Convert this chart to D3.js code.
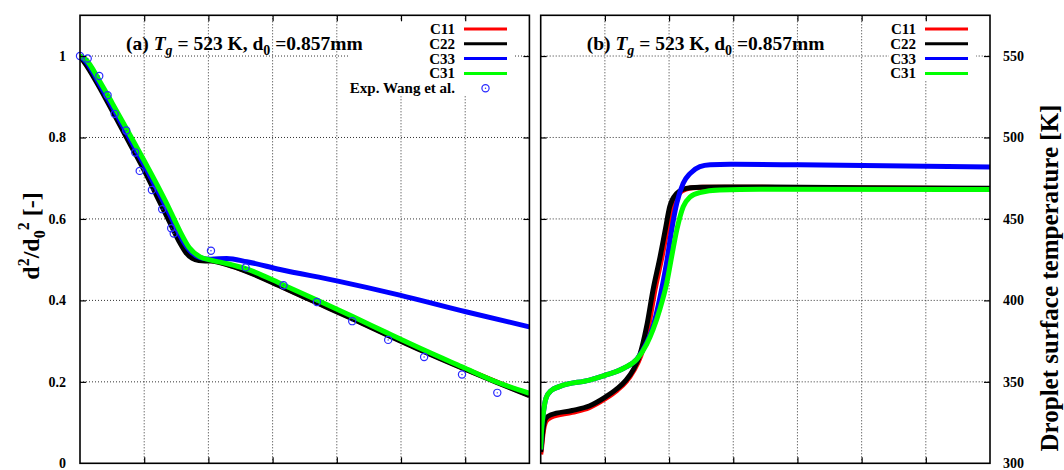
<!DOCTYPE html>
<html>
<head>
<meta charset="utf-8">
<script src="https://cdn.jsdelivr.net/npm/d3@7"></script>
<style>
body { margin: 0; background: #fff; }
text { font-family: "Liberation Serif", "Times New Roman", serif; font-weight: bold; fill: #000; }
</style>
</head>
<body>
<svg id="chart" width="1064" height="470"></svg>
<script>
// ---------- data ----------
var timeTicks = [0, 1, 2, 3, 4, 5, 6, 7];
var sizeTicks = [0, 0.2, 0.4, 0.6, 0.8, 1];
var tempTicks = [300, 350, 400, 450, 500, 550];
var seriesNames = ["C11", "C22", "C33", "C31"];

// (a) normalised squared diameter
var sizeTimeC11 = [0, 0.1, 0.3, 0.5, 0.8, 1.0, 1.2, 1.4, 1.56, 1.65, 1.75, 1.85, 1.95, 2.04, 2.3, 2.58, 3.17, 3.69, 4.24, 4.8, 5.36, 5.95, 6.5, 7.0];
var sizeC11 = [1.0, 0.98, 0.928, 0.871, 0.783, 0.724, 0.662, 0.598, 0.547, 0.521, 0.506, 0.5, 0.498, 0.498, 0.488, 0.473, 0.432, 0.395, 0.356, 0.315, 0.275, 0.235, 0.199, 0.167];
var sizeTimeC22 = [0, 0.1, 0.3, 0.5, 0.8, 1.0, 1.2, 1.4, 1.56, 1.65, 1.75, 1.85, 1.95, 2.04, 2.3, 2.58, 3.17, 3.69, 4.24, 4.8, 5.36, 5.95, 6.5, 7.0];
var sizeC22 = [1.0, 0.977, 0.924, 0.866, 0.778, 0.719, 0.655, 0.591, 0.54, 0.517, 0.503, 0.498, 0.497, 0.497, 0.487, 0.472, 0.431, 0.394, 0.355, 0.314, 0.274, 0.234, 0.198, 0.166];
var sizeTimeC33 = [0, 0.1, 0.3, 0.5, 0.8, 1.0, 1.2, 1.4, 1.56, 1.7, 1.87, 2.04, 2.285, 2.597, 3.115, 4.0, 4.98, 6.01, 7.0];
var sizeC33 = [1.0, 0.985, 0.932, 0.876, 0.79, 0.732, 0.672, 0.61, 0.558, 0.524, 0.505, 0.501, 0.503, 0.495, 0.476, 0.448, 0.413, 0.372, 0.335];
var sizeTimeC31 = [0, 0.1, 0.3, 0.5, 0.8, 1.0, 1.2, 1.4, 1.56, 1.7, 1.87, 2.04, 2.3, 2.58, 3.17, 3.69, 4.24, 4.8, 5.36, 5.95, 6.5, 7.0];
var sizeC31 = [1.0, 0.99, 0.94, 0.885, 0.8, 0.743, 0.684, 0.622, 0.569, 0.53, 0.507, 0.499, 0.49, 0.478, 0.438, 0.401, 0.361, 0.319, 0.278, 0.237, 0.199, 0.172];
var expTime = [0, 0.12, 0.30, 0.43, 0.54, 0.72, 0.86, 0.93, 1.12, 1.28, 1.42, 1.46, 2.04, 2.58, 3.17, 3.69, 4.24, 4.80, 5.36, 5.95, 6.50];
var expSize = [1.0, 0.994, 0.951, 0.904, 0.858, 0.817, 0.763, 0.718, 0.671, 0.624, 0.577, 0.564, 0.522, 0.481, 0.437, 0.396, 0.349, 0.303, 0.261, 0.218, 0.173];

// (b) droplet surface temperature [K]
var tempTimeC11 = [0, 0.012, 0.036, 0.083, 0.16, 0.49, 0.755, 1.0, 1.19, 1.33, 1.45, 1.56, 1.68, 1.78, 1.89, 1.97, 2.05, 2.16, 2.26, 2.37, 2.52, 3.42, 5.0, 7.0];
var tempC11 = [305.5, 309, 318, 325.8, 328.3, 331.3, 334.2, 339.5, 344.8, 350.1, 357, 366, 383.9, 406.4, 426.8, 443.2, 457.5, 465.7, 468.2, 469.2, 469.5, 469.4, 469.0, 468.6];
var tempTimeC22 = [0, 0.012, 0.036, 0.083, 0.16, 0.49, 0.755, 1.0, 1.19, 1.33, 1.45, 1.54, 1.65, 1.75, 1.86, 1.94, 2.01, 2.12, 2.22, 2.33, 2.48, 3.42, 5.0, 7.0];
var tempC22 = [307, 311, 320.5, 327.8, 329.8, 332.4, 335.2, 340.5, 345.8, 351.1, 358, 366, 383.9, 406.4, 426.8, 443.2, 457.5, 465.7, 468.2, 469.2, 469.5, 469.6, 469.2, 468.8];
var tempTimeC33 = [0, 0.01, 0.036, 0.083, 0.165, 0.3, 0.76, 1.0, 1.3, 1.5, 1.65, 1.75, 1.86, 1.96, 2.04, 2.12, 2.22, 2.33, 2.48, 2.64, 2.95, 4.04, 7.0];
var tempC33 = [308.5, 318, 329, 340, 344.7, 347.2, 351.1, 354, 358.5, 364, 374, 383.9, 402.3, 422.8, 443.2, 459.6, 471.9, 478, 482.1, 483.3, 483.6, 483.2, 481.9];
var tempTimeC31 = [0, 0.01, 0.036, 0.083, 0.165, 0.3, 0.76, 1.0, 1.3, 1.5, 1.65, 1.75, 1.86, 1.963, 2.04, 2.12, 2.22, 2.33, 2.48, 2.79, 3.42, 7.0];
var tempC31 = [308.5, 318, 329, 340, 344.7, 347.2, 351.1, 354, 358.5, 364, 373, 382, 395, 410.5, 426.8, 443.2, 457.5, 463.5, 466.2, 467.8, 468.2, 468];

// ---------- styles ----------
var colors = ["#ff0000", "#000000", "#0000ff", "#00ff00"];
var expColor = "#2a2aff";

var svg = d3.select("#chart");

function zipSeries(xs, ys) {
    return xs.map(function (x, i) { return [x, ys[i]]; });
}

/* draws one gnuplot-like panel */
function drawPanel(p) {
    var x = d3.scaleLinear().domain([0, 7]).range([p.left, p.right]);
    var y = d3.scaleLinear().domain(p.yDomain).range([463.3, 15.3]);
    var g = svg.append("g");

    var clipId = "clip" + p.tag.replace(/\W/g, "");
    svg.append("clipPath").attr("id", clipId)
        .append("rect")
        .attr("x", p.left).attr("y", 15.3)
        .attr("width", p.right - p.left).attr("height", 448);

    // grid
    var grid = g.append("g")
        .attr("stroke", "#333")
        .attr("stroke-width", 1)
        .attr("stroke-dasharray", "1,2");
    grid.selectAll("line.v").data(timeTicks.slice(1, -1)).enter().append("line")
        .attr("x1", d => x(d)).attr("x2", d => x(d))
        .attr("y1", 15.3).attr("y2", 463.3);
    grid.selectAll("line.h").data(p.yTicks.slice(1)).enter().append("line")
        .attr("x1", p.left).attr("x2", p.right)
        .attr("y1", d => y(d)).attr("y2", d => y(d));

    // key background (opaque)
    g.append("rect")
        .attr("x", p.keyBox[0]).attr("y", p.keyBox[1])
        .attr("width", p.keyBox[2]).attr("height", p.keyBox[3])
        .attr("fill", "#fff");

    // curves
    var line = d3.line()
        .x(d => x(d[0]))
        .y(d => y(d[1]))
        .curve(d3.curveMonotoneX);
    var curves = g.append("g").attr("clip-path", "url(#" + clipId + ")");
    p.series.forEach(function (s, i) {
        curves.append("path")
            .datum(zipSeries(s[0], s[1]))
            .attr("d", line)
            .attr("fill", "none")
            .attr("stroke", colors[i])
            .attr("stroke-width", 5)
            .attr("stroke-linejoin", "round");
    });

    // experiment points
    if (p.exp) {
        var pts = g.selectAll("g.exp").data(zipSeries(p.exp[0], p.exp[1])).enter().append("g")
            .attr("transform", d => "translate(" + x(d[0]) + "," + y(d[1]) + ")");
        pts.append("circle").attr("r", 3.6).attr("fill", "none")
            .attr("stroke", expColor).attr("stroke-width", 1.2);
        pts.append("circle").attr("r", 0.7).attr("fill", expColor);
    }

    // axes: inward ticks on all four sides
    var yAxisL = d3.axisRight(y).tickValues(p.yTicks.slice(1)).tickSize(6).tickFormat("");
    var yAxisR = d3.axisLeft(y).tickValues(p.yTicks.slice(1)).tickSize(6).tickFormat("");
    var xAxisB = d3.axisTop(x).tickValues(timeTicks.slice(1, -1)).tickSize(6).tickFormat("");
    var xAxisT = d3.axisBottom(x).tickValues(timeTicks.slice(1, -1)).tickSize(6).tickFormat("");
    [[yAxisL, "translate(" + p.left + ",0)"], [yAxisR, "translate(" + p.right + ",0)"],
     [xAxisB, "translate(0,463.3)"], [xAxisT, "translate(0,15.3)"]].forEach(function (a) {
        var ax = g.append("g").attr("transform", a[1]).call(a[0]);
        ax.select(".domain").remove();
        ax.selectAll("line").attr("stroke", "#000").attr("stroke-width", 1.2);
    });

    // tick labels
    g.selectAll("text.tl").data(p.yTicks).enter().append("text")
        .attr("x", p.labelX)
        .attr("y", d => y(d) + 5)
        .attr("text-anchor", p.labelAnchor)
        .style("font-size", "14px")
        .text(d => d);

    // frame
    g.append("rect")
        .attr("x", p.left).attr("y", 15.3)
        .attr("width", p.right - p.left).attr("height", 448)
        .attr("fill", "none").attr("stroke", "#000").attr("stroke-width", 1.6);

    // title
    var t = g.append("text").attr("x", p.left + 46).attr("y", 50).style("font-size", "19.5px");
    t.append("tspan").text(p.tag + " ");
    t.append("tspan").style("font-style", "italic").text("T");
    t.append("tspan").style("font-style", "italic").style("font-size", "14px").attr("dy", 5).text("g");
    t.append("tspan").attr("dy", -5).text(" = 523 K, d");
    t.append("tspan").style("font-size", "14px").attr("dy", 5).text("0");
    t.append("tspan").attr("dy", -5).text(" =0.857mm");

    // legend
    var keyRows = seriesNames.map((n, i) => ({ name: n, color: colors[i] }));
    if (p.exp) keyRows.push({ name: "Exp. Wang et al.", exp: true });
    var key = g.selectAll("g.key").data(keyRows).enter().append("g")
        .attr("transform", (d, i) => "translate(0," + (29 + i * 14.8) + ")");
    key.append("text")
        .attr("x", p.keyText).attr("y", 5)
        .attr("text-anchor", "end")
        .style("font-size", "15px")
        .text(d => d.name);
    key.filter(d => !d.exp).append("line")
        .attr("x1", p.keyText + 9).attr("x2", p.keyText + 52)
        .attr("stroke", d => d.color).attr("stroke-width", 3);
    key.filter(d => d.exp).append("circle")
        .attr("cx", p.keyText + 30.5).attr("r", 3.6).attr("fill", "none")
        .attr("stroke", expColor).attr("stroke-width", 1.2);
    key.filter(d => d.exp).append("circle")
        .attr("cx", p.keyText + 30.5).attr("r", 0.7).attr("fill", expColor);
}

drawPanel({
    tag: "(a)", left: 80, right: 529.4, yDomain: [0, 1.1], yTicks: sizeTicks,
    labelX: 66, labelAnchor: "end",
    keyBox: [348, 20, 167, 76], keyText: 455,
    series: [[sizeTimeC11, sizeC11], [sizeTimeC22, sizeC22], [sizeTimeC33, sizeC33], [sizeTimeC31, sizeC31]],
    exp: [expTime, expSize]
});

drawPanel({
    tag: "(b)", left: 540.7, right: 990, yDomain: [300, 575], yTicks: tempTicks,
    labelX: 1003, labelAnchor: "start",
    keyBox: [889, 20, 87, 61], keyText: 916,
    series: [[tempTimeC11, tempC11], [tempTimeC22, tempC22], [tempTimeC33, tempC33], [tempTimeC31, tempC31]]
});

// axis titles
var yl = svg.append("text")
    .attr("transform", "translate(39,236) rotate(-90)")
    .attr("text-anchor", "middle")
    .style("font-size", "24px");
yl.append("tspan").text("d");
yl.append("tspan").style("font-size", "16px").attr("dy", -10).text("2");
yl.append("tspan").attr("dy", 10).text("/d");
yl.append("tspan").style("font-size", "16px").attr("dy", 6).text("0");
yl.append("tspan").style("font-size", "16px").attr("dy", -16).text("2");
yl.append("tspan").attr("dy", 10).text(" [-]");

svg.append("text")
    .attr("transform", "translate(1058,278) rotate(-90)")
    .attr("text-anchor", "middle")
    .style("font-size", "25px")
    .text("Droplet surface temperature [K]");
</script>
</body>
</html>
